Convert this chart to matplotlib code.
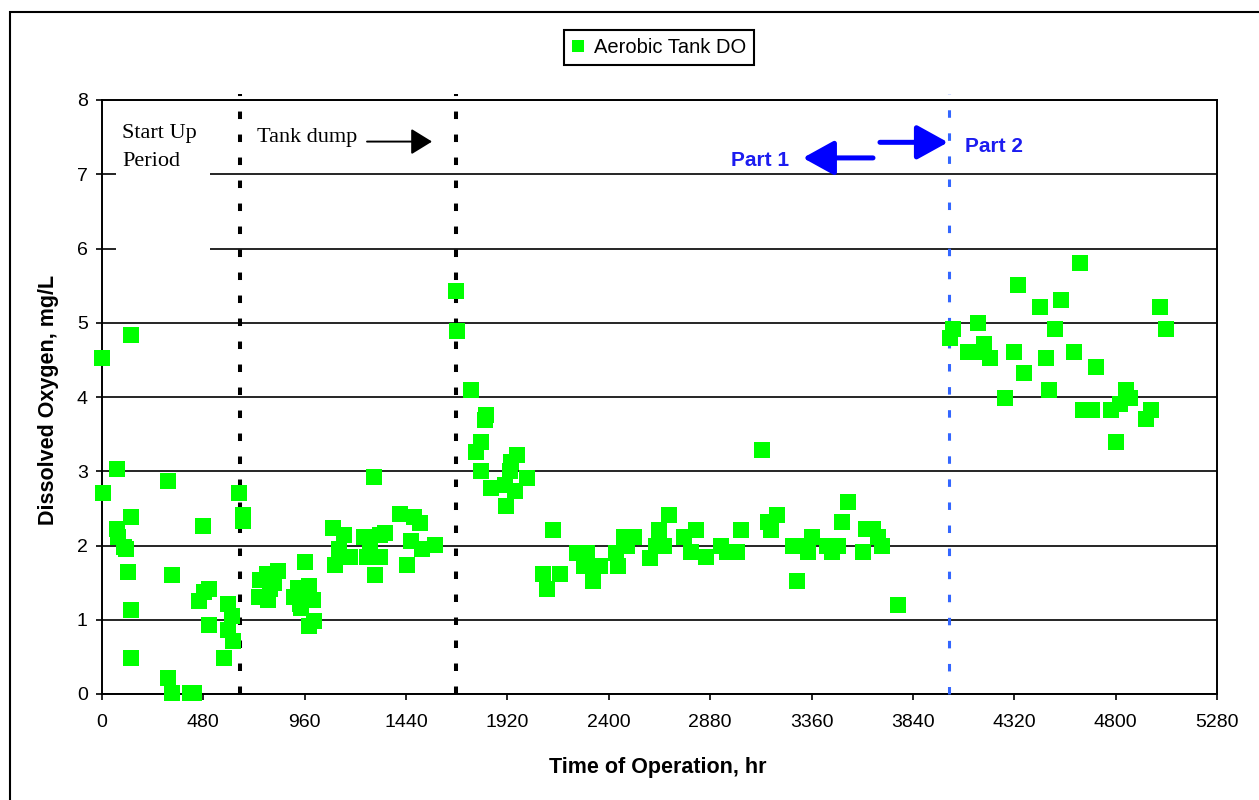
import matplotlib
matplotlib.use("Agg")
import matplotlib.pyplot as plt
from matplotlib.patches import Rectangle
from matplotlib.lines import Line2D

plt.rcParams["font.family"] = ["Liberation Sans", "DejaVu Sans"]

# Aerobic tank dissolved oxygen readings
hours = [0, 5, 71, 71, 74, 103, 115, 125, 137, 137, 137, 137, 313, 313, 332, 332,
         418, 434, 458, 478, 482, 505, 507, 576, 597, 597, 616, 620, 649, 668, 668,
         742, 747, 782, 786, 797, 813, 832, 908, 928, 936, 940, 963, 979, 982, 1000,
         1002, 1094, 1105, 1121, 1145, 1173, 1243, 1255, 1271, 1287, 1293, 1315, 1318,
         1342, 1410, 1445, 1461, 1476, 1505, 1516, 1579, 1674, 1682,
         1748, 1772, 1794, 1794, 1812, 1820, 1840, 1910, 1915, 1934, 1939, 1958, 1963,
         2011, 2090, 2106, 2135, 2170, 2249, 2281, 2297, 2326, 2356, 2432, 2445, 2472,
         2488, 2517, 2595, 2623, 2636, 2663, 2687, 2755, 2790, 2814, 2862, 2929, 2958,
         3005, 3025, 3124, 3156, 3167, 3196, 3271, 3292, 3307, 3344, 3363, 3435, 3458,
         3485, 3504, 3532, 3603, 3619, 3651, 3674, 3695, 3769,
         4017, 4029, 4100, 4140, 4148, 4179, 4206, 4277, 4318, 4337, 4365, 4442, 4471,
         4483, 4513, 4542, 4602, 4632, 4647, 4688, 4707, 4778, 4802, 4821, 4849, 4870,
         4944, 4968, 5010, 5039]
do_mgL = [4.53, 2.71, 3.03, 2.22, 2.11, 1.98, 1.95, 1.64, 4.84, 2.38, 1.13, 0.49, 2.87, 0.21, 1.60, 0.01,
          0.01, 0.01, 1.25, 2.26, 1.37, 1.41, 0.93, 0.49, 1.21, 0.86, 1.05, 0.72, 2.71, 2.41, 2.33,
          1.30, 1.54, 1.62, 1.26, 1.41, 1.50, 1.66, 1.30, 1.43, 1.21, 1.16, 1.78, 1.46, 0.92, 1.26,
          0.98, 2.23, 1.74, 1.95, 2.14, 1.84, 2.11, 1.85, 2.01, 2.92, 1.60, 2.14, 1.85,
          2.17, 2.43, 1.74, 2.06, 2.38, 2.30, 1.95, 2.01, 5.43, 4.89,
          4.09, 3.26, 3.40, 3.00, 3.69, 3.76, 2.78, 2.81, 2.53, 3.00, 3.12, 2.74, 3.22,
          2.91, 1.62, 1.41, 2.21, 1.62, 1.90, 1.73, 1.90, 1.52, 1.73, 1.90, 1.73, 2.11,
          2.00, 2.11, 1.83, 2.00, 2.21, 2.00, 2.41, 2.11, 1.91, 2.21, 1.84, 2.00, 1.91,
          1.91, 2.21, 3.29, 2.32, 2.21, 2.41, 2.00, 1.52, 2.00, 1.91, 2.11, 2.00, 1.91,
          2.00, 2.32, 2.59, 1.91, 2.22, 2.22, 2.12, 2.00, 1.20,
          4.80, 4.91, 4.61, 4.61, 5.00, 4.71, 4.52, 3.99, 4.61, 5.51, 4.32, 5.21, 4.52,
          4.10, 4.91, 5.31, 4.61, 5.81, 3.82, 3.82, 4.41, 3.82, 3.40, 3.91, 4.10, 3.99,
          3.71, 3.82, 5.21, 4.91]

x_ticks = list(range(0, 5281, 480))
y_ticks = list(range(0, 9))

startup_end = 655
tank_dump = 1675
part2_start = 4010

GREEN = "#00FF00"
BLUE = "#0000FF"
PART_TXT = "#1c1cf0"
DASH_BLUE = "#3366FF"

fig = plt.figure(figsize=(12.59, 8), dpi=100)
ax = fig.add_axes([0.08102, 0.1325, 0.88562, 0.7425])

# outer chart frame (runs off the right/bottom edge)
fig.add_artist(Rectangle((0.0079, -0.05), 1.2, 0.985 + 0.05, transform=fig.transFigure,
                         fill=False, edgecolor="black", lw=1.5))

ax.scatter(hours, do_mgL, marker="s", s=11 ** 2, color=GREEN, linewidths=0,
           zorder=3, clip_on=False, label="Aerobic Tank DO")

ax.set_xlim(0, 5280)
ax.set_ylim(0, 8)
ax.set_xticks(x_ticks)
ax.set_yticks(y_ticks)
ax.yaxis.grid(True, color="black", lw=1.2)
ax.tick_params(axis="both", direction="out", length=4.3, width=1.2, labelsize=14,
               color="black")
ax.tick_params(axis="x", pad=10)
ax.tick_params(axis="y", pad=6)
for sp in ax.spines.values():
    sp.set_linewidth(1.4)
    sp.set_color("black")

# phase boundaries, poking slightly above the plot frame
ax.vlines([startup_end, tank_dump], 0, 8.08, color="black", lw=2.9,
          linestyles=[(0, (1.86, 3.85))], zorder=2.6, clip_on=False)
ax.vlines([part2_start], 0, 8.08, color=DASH_BLUE, lw=2.2,
          linestyles=[(0, (2.45, 5.1))], zorder=2.6, clip_on=False)

# text box for the start-up label hides the grid behind it
ax.add_patch(Rectangle((66, 5.75), 445, 2.15, facecolor="white", edgecolor="none",
                       zorder=1.8))
serif = ["Liberation Serif", "DejaVu Serif"]
ax.text(96, 7.485, "Start Up", family=serif, fontsize=16, va="baseline", zorder=4)
ax.text(96, 7.112, "Period", family=serif, fontsize=16, va="baseline", zorder=4)
ax.text(732, 7.434, "Tank dump", family=serif, fontsize=16, va="baseline", zorder=4)
ax.annotate("", xy=(1563, 7.44), xytext=(1255, 7.44),
            arrowprops=dict(arrowstyle="-|>,head_length=13,head_width=8",
                            mutation_scale=1, lw=1.4, color="black",
                            shrinkA=0, shrinkB=0))

ax.text(2979, 7.111, "Part 1", fontsize=15, fontweight="bold", color=PART_TXT,
        va="baseline")
ax.text(4087, 7.304, "Part 2", fontsize=15, fontweight="bold", color=PART_TXT,
        va="baseline")
ax.annotate("", xy=(3319, 7.22), xytext=(3651, 7.22),
            arrowprops=dict(arrowstyle="-|>,head_length=19,head_width=10.5",
                            mutation_scale=1, lw=3.6, color=BLUE, capstyle="round",
                            shrinkA=0, shrinkB=0))
ax.annotate("", xy=(4006, 7.43), xytext=(3684, 7.43),
            arrowprops=dict(arrowstyle="-|>,head_length=19,head_width=10.5",
                            mutation_scale=1, lw=3.6, color=BLUE, capstyle="round",
                            shrinkA=0, shrinkB=0))

ax.set_xlabel("Time of Operation, hr", fontsize=15.5, fontweight="bold", va="center")
ax.xaxis.set_label_coords(0.498, -0.123)
ax.set_ylabel("Dissolved Oxygen, mg/L", fontsize=15.5, fontweight="bold", va="center")
ax.yaxis.set_label_coords(-0.048, 0.495)

handle = Line2D([], [], marker="s", ls="none", markersize=8, color=GREEN,
                markeredgewidth=0)
leg = fig.legend([handle], ["Aerobic Tank DO"], loc="center",
                 bbox_to_anchor=(659 / 1259, 1 - 47.5 / 800), fontsize=14.5,
                 frameon=True, fancybox=False, framealpha=1, edgecolor="black",
                 handlelength=0.6, handletextpad=0.5, borderpad=0.4, borderaxespad=0)
leg.get_frame().set_linewidth(1.5)

fig.savefig("out.png", dpi=100)
